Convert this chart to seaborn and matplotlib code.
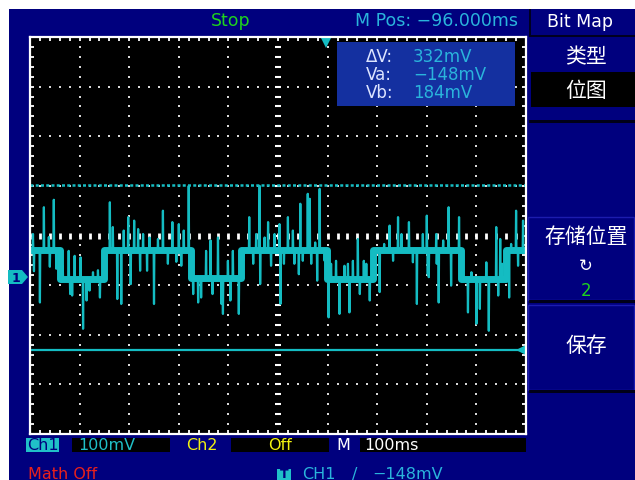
import numpy as np
import pandas as pd
import matplotlib
matplotlib.use("Agg")
import matplotlib.pyplot as plt
from matplotlib.patches import Rectangle, Polygon
import seaborn as sns

# ---- screen settings (ms / mV) ----
x_range = (-596, 404)      # 100 ms/div, M Pos -96 ms
y_range = (-317, 483)      # 100 mV/div, ch1 ground offset
trigger_t = 0
cursor_a = -148
cursor_b = 184

# square-ish base levels of the trace: segment edges (ms) and level (mV)
level_edges = [-596, -535, -446, -271, -170, 3, 95, 273, 364, 404]
level_values = [54, -4, 54, -2, 54, -4, 54, -4, 54]

# noise spikes: time (ms), peak (mV)
spike_t = [-590, -576, -568, -558, -548, -543, -530, -518, -515, -511, -506, -494, -489, -482, -476, -469, -459, -455,
           -435, -429, -420, -412, -407, -398, -393, -386, -378, -374, -368, -360, -355,
           -346, -338, -328, -318, -309, -296, -286, -276, -267, -257, -251, -241, -232, -228, -217, -210, -207,
           -197, -192, -187, -175,
           -154, -140, -133, -132, -123, -116, -103,
           -93, -91, -76, -66, -54, -51, -36, -32, -17, -12,
           6, 21, 28, 48, 65, 69, 89,
           109, 129, 146,
           168, 184, 196, 204, 228, 248, 253, 269,
           287, 304, 311, 329, 344, 352, 370, 384, 398]
spike_v = [86, -52, 140, 80, 155, 16, 22, 52, -35, -38, 42, 39, -105, -48, -28, 9, 13, -42,
           150, 100, -45, -55, 93, 120, -15, 113, 96, 12, 86, 12, 79,
           -55, 76, 133, 26, 110, 106, 93, 183, -35, -52, -42, 52, 73, -35, 79, -55, -75,
           32, -48, 52, -75,
           120, 86, 183, -15, 79, 110, 86,
           106, -55, 120, 93, 5, 147, 167, 157, -8, 177,
           -82, 32, -75, -72, 76, -35, -48,
           -31, 103, 120,
           110, -55, 86, 123, -52, 140, -18, 120,
           -72, -95, -65, -109, 100, 76, -42, 133, 113]

# smaller ripple on the levels: time (ms), peak (mV)
ripple_t = [-588, -556, -301, -291, -166, -146, -110, -84, -63, -46, -29, -21, -2,
            11, 38, 45, 55, 77, 82, 118, 136, 153, 176, 206, 208, 223, 224, 237,
            294, 324, 348, 356, 374, 388]
ripple_v = [11, 20, 30, 22, 32, 26, 22, 26, 26, 32, 26, 69, 32,
            26, 22, 26, 32, 32, 26, 66, 32, 86, 29, 5, -1, 86, 26, 73,
            9, 29, -38, 26, 66, 22]

NAVY = "#00007e"
TRACE = "#14bcc2"
TCYAN = "#2ab4dc"
GREEN = "#1ed21e"
YELLOW = "#f0f010"
RED = "#e8201c"
CJK = ["Noto Sans CJK SC", "DejaVu Sans"]

W, H = 635, 481
fig = plt.figure(figsize=(W / 100, H / 100), dpi=100)
fig.patch.set_facecolor("white")


def box(x0, y0, x1, y1, color, z=-1, ec="none", lw=0):
    fig.add_artist(Rectangle((x0 / W, 1 - y1 / H), (x1 - x0) / W, (y1 - y0) / H,
                             transform=fig.transFigure, facecolor=color,
                             edgecolor=ec, lw=lw, zorder=z))


def label(px, py, s, color, size=12, ha="left", family=None, **kw):
    fig.text(px / W, 1 - py / H, s, color=color, fontsize=size, ha=ha, va="center",
             family=family or ["DejaVu Sans"], zorder=5, **kw)


# screen background
box(9, 10, 635, 481, NAVY, z=-2)

# ---- main graticule ----
ax = fig.add_axes([30 / W, 1 - 435 / H, 496 / W, 397 / H])
ax.set_facecolor("black")
ax.set_xlim(*x_range)
ax.set_ylim(*y_range)
fine_x = np.arange(x_range[0], x_range[1] + 1, 20)
fine_y = np.arange(y_range[0], y_range[1] + 1, 20)
ax.set_xticks(fine_x)
ax.set_yticks(fine_y)
ax.tick_params(direction="in", length=3, width=1.3, color="white", top=True, right=True,
               labelbottom=False, labelleft=False)
for s in ax.spines.values():
    s.set_color("white")
    s.set_linewidth(1.6)

cx = (x_range[0] + x_range[1]) / 2
cy = (y_range[0] + y_range[1]) / 2
for gx in np.arange(x_range[0] + 100, x_range[1], 100):
    if gx == cx:
        continue
    ax.plot(np.full(len(fine_y), gx), fine_y, ls="none", marker="s", ms=1.5, mew=0, color="#d8d8d8")
for gy in np.arange(y_range[0] + 100, y_range[1], 100):
    if gy == cy:
        continue
    ax.plot(fine_x, np.full(len(fine_x), gy), ls="none", marker="s", ms=1.5, mew=0, color="#d8d8d8")
ax.plot(np.full(len(fine_y), cx), fine_y, ls="none", marker="_", ms=4.5, mew=1.5, color="white")
ax.plot(fine_x, np.full(len(fine_x), cy), ls="none", marker="|", ms=3.8, mew=2, color="white")

# ---- trace ----
bt = np.repeat(level_edges, 2)[1:-1]
bv = np.repeat(level_values, 2)
base = pd.DataFrame({"t": bt, "v": bv})
sns.lineplot(data=base, x="t", y="v", sort=False, estimator=None, color=TRACE, lw=5, ax=ax)


def level_at(t):
    i = np.searchsorted(level_edges, t, side="right") - 1
    return level_values[min(max(i, 0), len(level_values) - 1)]


ev = [(level_edges[0], 0, level_values[0])]
for i in range(1, len(level_edges) - 1):
    ev.append((level_edges[i], 0, level_values[i - 1]))
    ev.append((level_edges[i], 1, level_values[i]))
ev.append((level_edges[-1], 0, level_values[-1]))
for t, v in zip(spike_t + ripple_t, spike_v + ripple_v):
    b = level_at(t)
    ev += [(t - 0.7, 0, b), (t, 0, v), (t + 0.7, 0, b)]
ev.sort(key=lambda e: (e[0], e[1]))
trace = pd.DataFrame({"t": [e[0] for e in ev], "v": [e[2] for e in ev]})
sns.lineplot(data=trace, x="t", y="v", sort=False, estimator=None, color=TRACE, lw=1.6, ax=ax)

# cursors and markers
ax.axhline(cursor_b, color=TRACE, lw=1.8, ls=(0, (1.2, 0.9)))
ax.axhline(cursor_a, color=TRACE, lw=1.6)
ax.plot([394], [cursor_a], marker="<", ms=7, color=TRACE, mew=0, clip_on=False)
ax.plot([trigger_t], [470], marker="v", ms=7, color=TRACE, mew=0, clip_on=False)
ax.set_xlabel("")
ax.set_ylabel("")

# ground marker "1"
gy_px = 278
fig.add_artist(Polygon([(8 / W, 1 - 271 / H), (22 / W, 1 - 271 / H), (28 / W, 1 - gy_px / H),
                        (22 / W, 1 - 285 / H), (8 / W, 1 - 285 / H)],
                       closed=True, transform=fig.transFigure, facecolor=TRACE,
                       edgecolor="none", zorder=3))
label(15.5, gy_px, "1", NAVY, size=9, ha="center", weight="bold")

# measurement box
box(337, 43, 515, 107, "#1430a0", z=2)
label(366, 57, "ΔV:", "#dce4ff")
label(413, 57, f"{cursor_b - cursor_a}mV", TCYAN)
label(366, 75, "Va:", "#dce4ff")
label(413, 75, f"\u2212{abs(cursor_a)}mV", TCYAN)
label(366, 93, "Vb:", "#dce4ff")
label(413, 93, f"{cursor_b}mV", TCYAN)

# top bar
label(231, 21, "Stop", GREEN, size=12.5, ha="center")
label(355, 21, "M Pos: \u221296.000ms", TCYAN, size=12.5)
box(529, 10, 531, 36, "#000020", z=1)
label(580, 22, "Bit Map", "white", size=12.5, ha="center")

# right menu
box(529, 36, 635, 38, "#000020", z=1)
label(586, 57, "类型", "white", size=15, ha="center", family=CJK)
box(531, 73, 635, 108, "black", z=1)
label(586, 91, "位图", "white", size=15, ha="center", family=CJK)
box(529, 121, 635, 124, "#000018", z=1)
box(528, 218, 634, 301, NAVY, z=1, ec="#1c1cae", lw=1)
label(586, 237, "存储位置", "white", size=15, ha="center", family=CJK)
label(586, 266, "\u21bb", "white", size=12, ha="center")
label(586, 291, "2", GREEN, size=12, ha="center")
box(529, 301, 635, 304, "#000018", z=1)
box(528, 306, 634, 391, NAVY, z=1, ec="#1c1cae", lw=1)
label(586, 346, "保存", "white", size=15, ha="center", family=CJK)
box(529, 391, 635, 394, "#000018", z=1)

# bottom status line
box(26, 439, 59, 453, "#20c0c8", z=1)
label(42.5, 446, "Ch1", NAVY, size=11.5, ha="center")
box(72, 439, 170, 453, "black", z=1)
label(78, 446, "100mV", "#20c0c8", size=11.5)
label(186, 446, "Ch2", YELLOW, size=11.5)
box(231, 439, 329, 453, "black", z=1)
label(280, 446, "Off", YELLOW, size=11.5, ha="center")
label(343, 446, "M", "white", size=11.5, ha="center")
box(360, 439, 526, 453, "black", z=1)
label(364, 446, "100ms", "white", size=11.5)
label(28, 475, "Math Off", RED, size=11.5)
box(277, 470, 291, 481, "#20c0c8", z=1)
label(284, 475, "T", NAVY, size=9, ha="center", weight="bold")
label(302, 475, "CH1", TCYAN, size=11.5)
label(352, 475, "/", TCYAN, size=11.5)
label(372, 475, f"\u2212{abs(cursor_a)}mV", TCYAN, size=11.5)

fig.savefig("out.png", dpi=100)
